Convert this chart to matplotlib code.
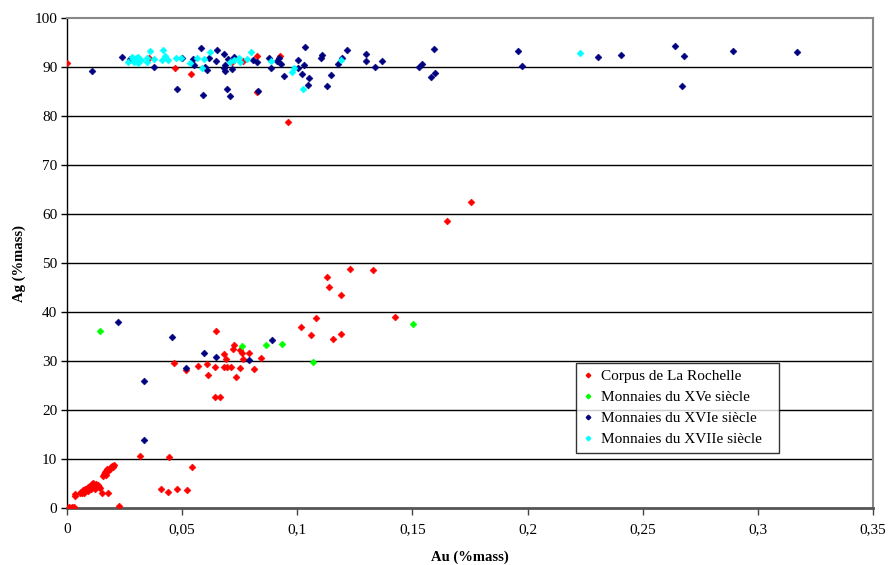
import matplotlib
matplotlib.use("Agg")
import matplotlib.pyplot as plt
from matplotlib.ticker import FuncFormatter
from matplotlib.lines import Line2D

plt.rcParams['font.family'] = ['Liberation Serif', 'DejaVu Serif']

# ---- data ----
corpus_au = [0.0, 0.047, 0.0538, 0.0357, 0.0718, 0.0766, 0.0824, 0.0824, 0.0926, 0.096,
             0.0648, 0.0463, 0.0517, 0.0569, 0.0607, 0.0611, 0.0643, 0.0682, 0.0689, 0.0683,
             0.0714, 0.0695, 0.0719, 0.0727, 0.0734, 0.0751, 0.0753, 0.076, 0.0763, 0.079,
             0.0812, 0.0842, 0.0641, 0.0663,
             0.1229, 0.1327, 0.1128, 0.1139, 0.1188, 0.1753, 0.1651, 0.1081, 0.1017, 0.1424,
             0.1059, 0.1156, 0.1188,
             0.0316, 0.0441, 0.0544, 0.0407, 0.044, 0.0478, 0.0522, 0.0224,
             0.0033, 0.0035, 0.0055, 0.006, 0.0065, 0.007, 0.0075, 0.008, 0.0085, 0.009,
             0.0095, 0.010, 0.0105, 0.011, 0.0115, 0.012, 0.0125, 0.013, 0.0135, 0.014,
             0.0075, 0.009, 0.0105, 0.012, 0.0115, 0.0145, 0.0152, 0.0178,
             0.0155, 0.016, 0.0165, 0.017, 0.0175, 0.018, 0.0185, 0.019, 0.0195, 0.020, 0.0205, 0.0168,
             0.0005, 0.001, 0.0015, 0.002, 0.0025, 0.003]
corpus_ag = [90.9, 89.7, 88.6, 91.8, 91.1, 91.3, 92.3, 84.8, 92.3, 78.8,
             36.2, 29.6, 28.2, 29.0, 29.3, 27.2, 28.8, 31.4, 30.4, 28.8,
             28.8, 28.8, 32.5, 33.3, 26.7, 28.6, 32.2, 31.6, 30.5, 31.7,
             28.4, 30.7, 22.7, 22.7,
             48.7, 48.6, 47.1, 45.2, 43.5, 62.5, 58.5, 38.7, 36.9, 38.9,
             35.4, 34.5, 35.6,
             10.7, 10.4, 8.4, 3.9, 3.2, 3.8, 3.7, 0.4,
             2.4, 2.9, 3.0, 3.3, 3.1, 3.6, 3.4, 3.9, 3.7, 4.2,
             4.0, 4.5, 4.3, 4.8, 4.6, 4.3, 4.9, 4.4, 4.6, 4.2,
             3.0, 3.4, 3.8, 3.9, 5.2, 4.0, 3.1, 3.1,
             6.6, 7.0, 7.3, 7.6, 7.9, 7.5, 8.0, 8.3, 8.6, 8.3, 8.8, 6.8,
             0.1, 0.2, 0.0, 0.2, 0.1, 0.2]

xv_au = [0.0143, 0.076, 0.0864, 0.0934, 0.1067, 0.1504]
xv_ag = [36.2, 33.1, 33.3, 33.4, 29.7, 37.6]

xvi_au = [0.0237, 0.0107, 0.0274, 0.0379, 0.0479, 0.0498, 0.0549, 0.0551, 0.058, 0.0592,
          0.06, 0.0608, 0.0618, 0.0653, 0.0647, 0.0682, 0.0685, 0.0682, 0.0685, 0.0698,
          0.0693, 0.0708, 0.0718, 0.0727, 0.0809, 0.0826, 0.0831,
          0.0878, 0.0884, 0.0913, 0.0919, 0.0929, 0.0944, 0.1004, 0.1004, 0.1019, 0.1029,
          0.1035, 0.1048, 0.1052, 0.1101, 0.1109, 0.1129, 0.1148, 0.1178, 0.1194, 0.1216,
          0.1298, 0.1298, 0.1339, 0.1369, 0.153, 0.1541, 0.1581, 0.1592, 0.1599,
          0.1958, 0.1974, 0.2304, 0.2404, 0.264, 0.2678, 0.267, 0.2893, 0.3168,
          0.0223, 0.0454, 0.0336, 0.0515, 0.0596, 0.0647, 0.079, 0.089, 0.0333]
xvi_ag = [92.0, 89.2, 91.6, 90.0, 85.5, 91.8, 91.7, 90.4, 93.8, 84.2,
          90.1, 89.3, 91.8, 93.5, 91.2, 92.6, 90.5, 89.7, 89.2, 91.6,
          85.6, 84.1, 89.5, 92.0, 91.4, 91.0, 85.1,
          91.8, 89.7, 91.2, 91.8, 90.7, 88.2, 91.4, 89.7, 88.6, 90.5,
          94.0, 86.3, 87.8, 91.9, 92.4, 86.1, 88.3, 90.6, 91.9, 93.5,
          92.7, 91.3, 89.9, 91.2, 90.0, 90.7, 87.9, 93.7, 88.8,
          93.2, 90.2, 92.1, 92.4, 94.2, 92.2, 86.1, 93.2, 93.1,
          38.0, 35.0, 26.0, 28.6, 31.6, 30.9, 30.3, 34.3, 13.9]

xvii_au = [0.0266, 0.0281, 0.0291, 0.03, 0.031, 0.0307, 0.0346, 0.0349, 0.0362, 0.0378,
           0.0418, 0.0427, 0.0414, 0.0437, 0.0473, 0.0494, 0.0534, 0.0566, 0.0585, 0.0595,
           0.0622, 0.0708, 0.0725, 0.0748, 0.0751, 0.0783, 0.0799,
           0.0884, 0.0976, 0.0984, 0.1026, 0.1188, 0.2229, 0.032, 0.0285]
xvii_ag = [91.0, 92.0, 91.0, 91.9, 92.0, 90.9, 91.8, 91.1, 93.3, 91.6,
           93.4, 92.3, 91.4, 91.4, 91.8, 91.8, 90.9, 91.9, 89.7, 91.6,
           93.1, 91.1, 91.5, 91.9, 91.1, 91.6, 93.1,
           91.2, 88.9, 89.7, 85.5, 91.5, 92.8, 91.4, 91.6]

labels = ['Corpus de La Rochelle', 'Monnaies du XVe siècle',
          'Monnaies du XVIe siècle', 'Monnaies du XVIIe siècle']
colors = ['#ff0000', '#00ff00', '#000080', '#00ffff']
x_ticks = [0, 0.05, 0.1, 0.15, 0.2, 0.25, 0.3, 0.35]
y_ticks = list(range(0, 101, 10))

# ---- figure ----
fig = plt.figure(figsize=(8.88, 5.65), dpi=100)
ax = fig.add_axes([67/888, 57/565, 806/888, 490/565])

series = [(corpus_au, corpus_ag), (xv_au, xv_ag), (xvi_au, xvi_ag), (xvii_au, xvii_ag)]
for (xs, ys), c, lab in zip(series, colors, labels):
    ax.plot(xs, ys, linestyle='none', marker='D', markersize=3.5, color=c,
            markeredgewidth=0.4, markeredgecolor=c, label=lab, zorder=3)

ax.set_xlim(0, 0.35)
ax.set_ylim(0, 100)
ax.set_xticks(x_ticks)
ax.set_yticks(y_ticks)

def fmt(v, pos):
    s = ('%.2f' % v).rstrip('0').rstrip('.')
    return s.replace('.', ',')
ax.xaxis.set_major_formatter(FuncFormatter(fmt))

for y in y_ticks[1:-1]:
    ax.axhline(y, color='black', linewidth=1.0, zorder=1)

ax.spines['left'].set_color('black')
ax.spines['left'].set_linewidth(1.0)
ax.spines['bottom'].set_color('#555555')
ax.spines['bottom'].set_linewidth(2.0)
ax.spines['top'].set_color('#888888')
ax.spines['top'].set_linewidth(1.5)
ax.spines['right'].set_color('#888888')
ax.spines['right'].set_linewidth(1.5)

ax.tick_params(axis='y', direction='out', length=4, width=1, labelsize=11, pad=3)
ax.tick_params(axis='x', direction='out', length=5, width=1, labelsize=11, pad=6,
               color='#444444')

ax.set_xlabel('Au (%mass)', fontweight='bold', fontsize=10.5, labelpad=10)
ax.set_ylabel('Ag (%mass)', fontweight='bold', fontsize=10.5, labelpad=6)

handles = [Line2D([], [], linestyle='none', marker='D', markersize=2.3, color=c,
                  markeredgecolor=c) for c in colors]
leg = ax.legend(handles, labels, loc='lower left', bbox_to_anchor=(0.632, 0.112, 0.251, 0.186),
                mode='expand', fontsize=11, frameon=True, fancybox=False, handlelength=0.6,
                handletextpad=0.55, borderpad=0.45, labelspacing=0.48, borderaxespad=0)
leg.get_frame().set_edgecolor('black')
leg.get_frame().set_linewidth(1.0)
leg.set_zorder(5)

fig.savefig('out.png', dpi=100)
